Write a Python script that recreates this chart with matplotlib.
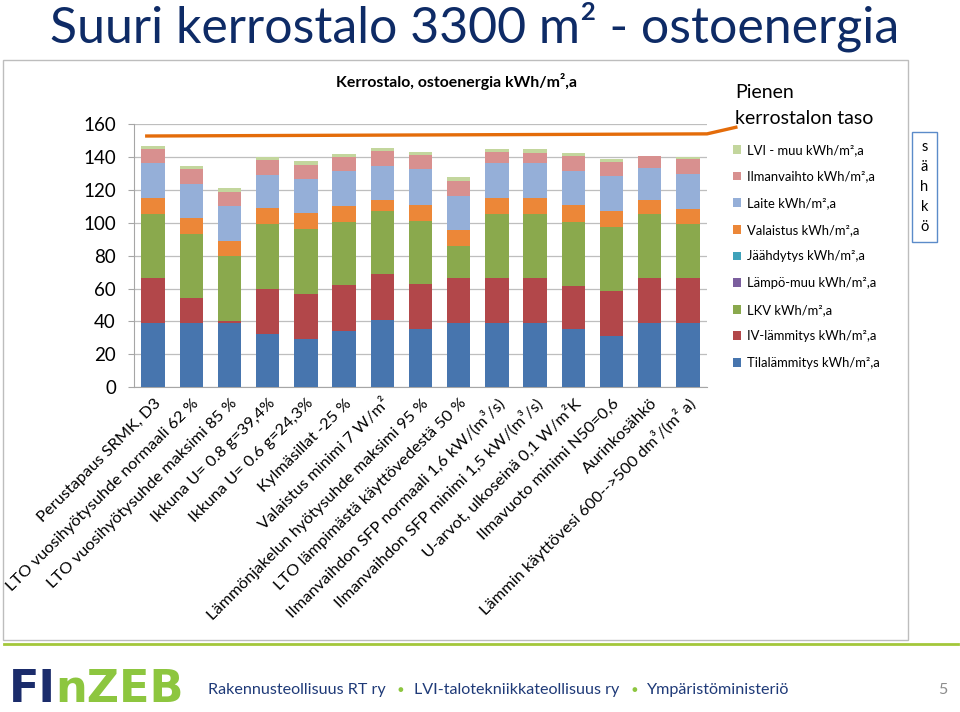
import matplotlib
matplotlib.use("Agg")
import matplotlib.pyplot as plt
from matplotlib.patches import Rectangle
from matplotlib.lines import Line2D
from matplotlib.transforms import ScaledTranslation
import numpy as np

plt.rcParams['font.family'] = ['Lato', 'DejaVu Sans']

categories = [
    "Perustapaus SRMK, D3",
    "LTO vuosihyötysuhde normaali 62 %",
    "LTO vuosihyötysuhde maksimi 85 %",
    "Ikkuna U= 0.8 g=39,4%",
    "Ikkuna U= 0.6 g=24,3%",
    "Kylmäsillat -25 %",
    "Valaistus minimi 7 W/m²",
    "Lämmönjakelun hyötysuhde maksimi 95 %",
    "LTO lämpimästä käyttövedestä 50 %",
    "Ilmanvaihdon SFP normaali 1,6 kW/(m³/s)",
    "Ilmanvaihdon SFP minimi 1,5 kW/(m³/s)",
    "U-arvot, ulkoseinä 0,1 W/m²K",
    "Ilmavuoto minimi N50=0,6",
    "Aurinkosähkö",
    "Lämmin käyttövesi 600-->500 dm³/(m² a)",
]

tilalammitys = [38.9, 38.9, 38.9, 32.4, 29.4, 34.2, 41.1, 35.2, 38.9, 38.9, 38.9, 35.2, 31.4, 38.9, 38.9]
iv_lammitys  = [27.5, 15.2, 1.6, 27.3, 27.3, 27.8, 27.8, 27.4, 27.5, 27.5, 27.5, 26.6, 27.3, 27.5, 27.5]
lkv          = [38.9, 39.1, 39.3, 39.5, 39.3, 38.5, 38.4, 38.3, 19.7, 38.9, 38.9, 38.9, 38.9, 38.9, 32.8]
lampo_muu    = [0, 0, 0, 0, 0, 0, 0, 0, 0, 0, 0, 0, 0, 0, 0]
jaahdytys    = [0, 0, 0, 0, 0, 0, 0, 0, 0, 0, 0, 0, 0, 0, 0]
valaistus    = [9.5, 9.7, 9.1, 9.6, 9.7, 9.9, 6.5, 10.1, 9.5, 9.9, 9.9, 10.3, 9.5, 8.3, 9.4]
laite        = [21.3, 20.6, 21.3, 20.2, 20.7, 21.2, 20.9, 21.5, 20.9, 20.9, 20.9, 20.6, 21.3, 19.5, 21.2]
ilmanvaihto  = [8.5, 9.0, 8.7, 9.1, 8.7, 8.6, 8.7, 8.5, 8.7, 6.9, 6.5, 9.0, 8.5, 7.3, 8.7]
lvi_muu      = [2.0, 2.0, 2.0, 1.9, 2.2, 1.8, 2.2, 2.0, 2.4, 2.0, 2.2, 2.0, 1.8, 0.0, 1.7]

series_names = [
    "Tilalämmitys kWh/m²,a",
    "IV-lämmitys kWh/m²,a",
    "LKV kWh/m²,a",
    "Lämpö-muu kWh/m²,a",
    "Jäähdytys kWh/m²,a",
    "Valaistus kWh/m²,a",
    "Laite kWh/m²,a",
    "Ilmanvaihto kWh/m²,a",
    "LVI - muu kWh/m²,a",
]
series_colors = ["#4775AE", "#B2474A", "#8AA94D", "#7B5E9E", "#3FA2BA",
                 "#EC8738", "#95AFD8", "#D8908F", "#C3D69D"]

reference_level = [152.7, 154.0]   # "Pienen kerrostalon taso"
y_ticks = [0, 20, 40, 60, 80, 100, 120, 140, 160]

W, H = 960, 712
fig = plt.figure(figsize=(W / 100, H / 100), dpi=100)

def fx(px):
    return px / W

def fy(py):
    return 1 - py / H

# chart frame
fig.patches.append(Rectangle((fx(3), fy(640)), fx(905), (640 - 60) / H,
                             transform=fig.transFigure, fill=False,
                             edgecolor="#BDBDBD", lw=1.0, zorder=0))
# green footer line
fig.lines.append(Line2D([fx(4), fx(958)], [fy(644), fy(644)],
                        transform=fig.transFigure, color="#A3C73A", lw=2.0))

ax = fig.add_axes([fx(134), fy(387.3), fx(707 - 134), (387.3 - 124) / H])

x = np.arange(len(categories))
data = [tilalammitys, iv_lammitys, lkv, lampo_muu, jaahdytys,
        valaistus, laite, ilmanvaihto, lvi_muu]
bottom = np.zeros(len(categories))
handles = []
for vals, name, col in zip(data, series_names, series_colors):
    v = np.array(vals, dtype=float)
    b = ax.bar(x, v, 0.61, bottom=bottom, color=col, label=name, zorder=3)
    handles.append(b)
    bottom += v

ax.set_xlim(-0.5, len(categories) - 0.5)
ax.set_ylim(0, 160)
ax.set_yticks(y_ticks)
ax.yaxis.grid(True, color="#BEBEBE", lw=0.9, zorder=0)
ax.set_axisbelow(True)
for s in ["top", "right"]:
    ax.spines[s].set_visible(False)
ax.spines["left"].set_color("#A6A6A6")
ax.spines["bottom"].set_color("#A6A6A6")
ax.tick_params(axis="y", length=4, color="#A6A6A6", labelsize=13.5, pad=9)
ax.tick_params(axis="x", length=0, pad=6)
ax.set_xticks(x)
ax.set_xticklabels(categories, rotation=45, ha="right", rotation_mode="anchor",
                   fontsize=11.8, va="center")
shift = ScaledTranslation(4 / 72, -4 / 72, fig.dpi_scale_trans)
for lbl in ax.get_xticklabels():
    lbl.set_transform(lbl.get_transform() + shift)

# reference line (annotation)
kx = -0.5 + (737 - 134) / 38.17
ky = (387.3 - 127) / 1.645
ax.plot([-0.21, 14.5, kx], [reference_level[0], reference_level[1], ky],
        color="#E46C0A", lw=2.4, clip_on=False, zorder=4, solid_capstyle="butt")

# legend
leg = ax.legend(handles[::-1], series_names[::-1], loc="upper left",
                bbox_to_anchor=(fx(733), fy(144)), bbox_transform=fig.transFigure,
                frameon=False, fontsize=9.4, handlelength=0.65, handleheight=0.65,
                handletextpad=0.45, labelspacing=1.12, borderaxespad=0, borderpad=0)

# texts
fig.text(fx(50), fy(27), "Suuri kerrostalo 3300 m² - ostoenergia", fontsize=36,
         color="#0E2B66", ha="left", va="center")
fig.text(fx(456), fy(81), "Kerrostalo, ostoenergia kWh/m²,a", fontsize=11.4,
         fontweight="bold", ha="center", va="center", color="black")
fig.text(fx(735), fy(93), "Pienen", fontsize=14, ha="left", va="center")
fig.text(fx(735), fy(119), "kerrostalon taso", fontsize=14, ha="left", va="center")

# sähkö box
fig.patches.append(Rectangle((fx(912), fy(242)), fx(25), (242 - 132) / H,
                             transform=fig.transFigure, fill=False,
                             edgecolor="#5B8BC9", lw=1.0))
for i, ch in enumerate("sähkö"):
    fig.text(fx(924.5), fy(147 + i * 20), ch, fontsize=10.5, ha="center", va="center")

# footer
fig.text(fx(9), fy(689), "FI", fontsize=32, fontweight="bold", color="#1B2C6B",
         ha="left", va="center", family="DejaVu Sans")
fig.text(fx(55), fy(689), "nZEB", fontsize=32, fontweight="bold", color="#8DC63F",
         ha="left", va="center", family="DejaVu Sans")
footer_color = "#1F3A78"
fig.text(fx(208), fy(690), "Rakennusteollisuus RT ry", fontsize=11.6, color=footer_color,
         ha="left", va="center")
fig.text(fx(400), fy(690), "●", fontsize=7, color="#8DC63F", ha="center", va="center")
fig.text(fx(414), fy(690), "LVI-talotekniikkateollisuus ry", fontsize=11.6, color=footer_color,
         ha="left", va="center")
fig.text(fx(634), fy(690), "●", fontsize=7, color="#8DC63F", ha="center", va="center")
fig.text(fx(647), fy(690), "Ympäristöministeriö", fontsize=11.6, color=footer_color,
         ha="left", va="center")
fig.text(fx(943), fy(690), "5", fontsize=11.5, color="#8C8C8C", ha="center", va="center")

fig.savefig("out.png", dpi=100)
